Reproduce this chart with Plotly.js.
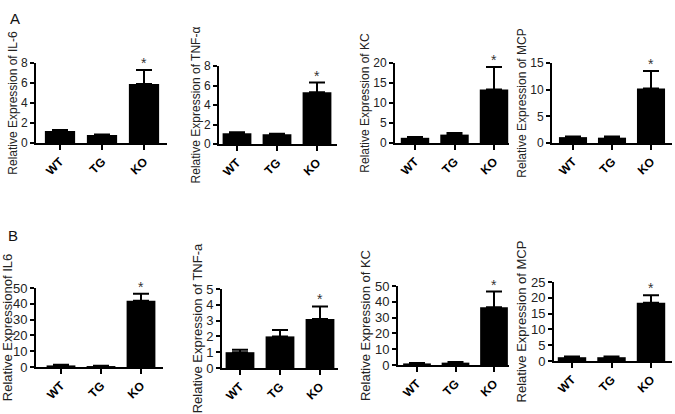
<!DOCTYPE html>
<html>
<head>
<meta charset="utf-8">
<script src="https://cdn.plot.ly/plotly-3.0.1.min.js"></script>
<style>html,body{margin:0;padding:0;background:#fff;}#chart{width:675px;height:414px;}</style>
</head>
<body>
<div id="chart"></div>
<script>
// ---- data ----
const groups = ['WT', 'TG', 'KO'];

const il6A = [1.2, 0.8, 5.9];     const il6AErr = [0.1, 0.05, 1.4];
const tnfA = [1.1, 1.0, 5.3];     const tnfAErr = [0.1, 0.05, 1.0];
const kcA  = [1.3, 2.1, 13.4];    const kcAErr  = [0.2, 0.4, 5.6];
const mcpA = [1.1, 1.0, 10.2];    const mcpAErr = [0.1, 0.2, 3.3];

const il6B = [1.0, 0.6, 41.9];    const il6BErr = [0.5, 0.2, 4.5];
const tnfB = [1.0, 2.0, 3.1];     const tnfBErr = [0.15, 0.4, 0.8];
const kcB  = [1.0, 1.5, 36.5];    const kcBErr  = [0.3, 0.4, 10.0];
const mcpB = [1.2, 1.2, 18.4];    const mcpBErr = [0.2, 0.2, 2.4];

const yTitles = ['Relative Expression of IL-6', 'Relative Expression of TNF-\u03B1',
                 'Relative Expression of KC', 'Relative Expression of MCP',
                 'Relative Expressionof IL6', 'Relative Expression of TNF-a',
                 'Relative Expression of KC', 'Relative Expression of MCP'];
const yMax  = [8, 8, 20, 15, 50, 5, 50, 25];
const yStep = [2, 2, 5, 5, 10, 1, 10, 5];
const panelLabels = ['A', 'B'];

const values = [il6A, tnfA, kcA, mcpA, il6B, tnfB, kcB, mcpB];
const errors = [il6AErr, tnfAErr, kcAErr, mcpAErr, il6BErr, tnfBErr, kcBErr, mcpBErr];

// ---- layout geometry (pixels): axis left, axis right, first category center, spacing, top, bottom ----
const W = 675, H = 414;
const geom = [
  [36, 167, 60, 42, 63, 143],
  [219, 337, 237, 40, 66, 144],
  [395, 509, 415, 39.5, 63, 143],
  [552, 672, 573, 39, 63, 143],
  [36, 163, 61, 40, 288, 367],
  [222, 338, 240, 40, 289, 368],
  [398, 509, 417, 38.5, 286, 365],
  [554, 672, 572, 39.5, 282, 361]
];

const traces = [];
const layout = {
  width: W, height: H,
  margin: {l: 0, r: 0, t: 0, b: 0},
  paper_bgcolor: '#fff', plot_bgcolor: 'rgba(0,0,0,0)',
  showlegend: false,
  font: {family: 'Arial, "Liberation Sans", sans-serif', color: '#222'},
  annotations: []
};

values.forEach((vals, i) => {
  const n = i + 1;
  const g = geom[i];
  const xa = 'x' + (n === 1 ? '' : n), ya = 'y' + (n === 1 ? '' : n);
  traces.push({
    type: 'bar', x: groups, y: vals, xaxis: xa, yaxis: ya,
    width: 0.72,
    marker: {color: '#000', line: {width: 0}},
    error_y: {type: 'data', symmetric: false, array: errors[i],
              arrayminus: errors[i].map(() => 0),
              color: '#000', thickness: 2, width: 8},
    hoverinfo: 'skip'
  });
  const big = i >= 4;
  layout['xaxis' + (n === 1 ? '' : n)] = {
    domain: [g[0] / W, g[1] / W],
    anchor: ya,
    type: 'category',
    range: [(g[0] - g[2]) / g[3], (g[1] - g[2]) / g[3]],
    showline: true, linecolor: '#000', linewidth: 2,
    ticks: 'outside', ticklen: 5, tickwidth: 2, tickcolor: '#000',
    tickangle: -45,
    tickfont: {size: 12, color: '#000', weight: 'bold'},
    showgrid: false, zeroline: false, fixedrange: true
  };
  layout['yaxis' + (n === 1 ? '' : n)] = {
    domain: [1 - g[5] / H, 1 - g[4] / H],
    anchor: xa,
    range: [0, yMax[i]], dtick: yStep[i], tick0: 0,
    showline: true, linecolor: '#000', linewidth: 2,
    ticks: 'outside', ticklen: 4, tickwidth: 2, tickcolor: '#000',
    tickfont: {size: big ? 13 : 12, color: '#222'},
    title: {text: yTitles[i], font: {size: big ? 13 : 12, color: '#222'}, standoff: 1},
    showgrid: false, zeroline: false, fixedrange: true
  };
  layout.annotations.push({
    xref: xa, yref: ya, x: groups[2], y: vals[2] + errors[i][2],
    text: '*', showarrow: false, yanchor: 'bottom', yshift: -3,
    font: {size: 14, color: '#333'}
  });
});

layout.annotations.push({xref: 'paper', yref: 'paper', x: 8 / W, y: 1 - 8 / H,
  xanchor: 'left', yanchor: 'top', text: panelLabels[0], showarrow: false,
  font: {size: 15, color: '#111'}});
layout.annotations.push({xref: 'paper', yref: 'paper', x: 6 / W, y: 1 - 225 / H,
  xanchor: 'left', yanchor: 'top', text: panelLabels[1], showarrow: false,
  font: {size: 15, color: '#111'}});

Plotly.newPlot('chart', traces, layout, {staticPlot: true, displayModeBar: false});
</script>
</body>
</html>
